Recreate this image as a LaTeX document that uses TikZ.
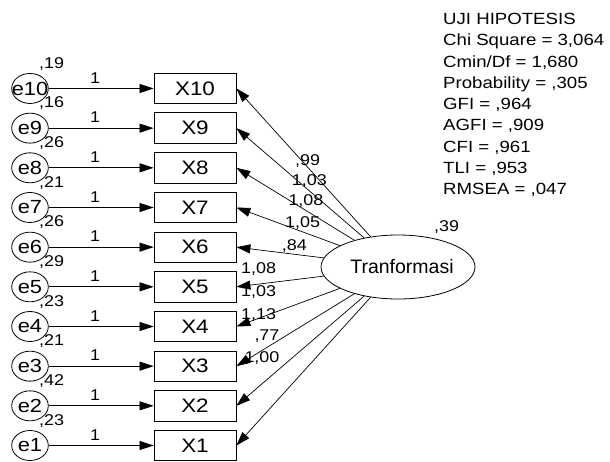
\documentclass[tikz,border=0pt]{standalone}
\usepackage{fontspec}
\newfontfamily\af{Liberation Sans}[FakeStretch=1.15]
\newfontfamily\an{Liberation Sans}
\usetikzlibrary{shapes.geometric,arrows.meta}
\tikzset{
  obsbox/.style={draw=black, line width=0.8pt, minimum width=82pt, minimum height=30.5pt, inner sep=0pt,
    font={\af\fontsize{19.5}{20}\selectfont}},
  errell/.style={draw=black, line width=0.8pt, ellipse, minimum width=36.6pt, minimum height=30pt, inner sep=0pt,
    font={\af\fontsize{19}{20}\selectfont}},
  latell/.style={draw=black, line width=0.8pt, ellipse, minimum width=154pt, minimum height=64pt, inner sep=0pt,
    font={\an\fontsize{19.5}{20}\selectfont}},
  arr/.style={line width=0.7pt, -{Triangle[length=14pt,width=9pt]}},
  small/.style={inner sep=0pt, anchor=base west, font={\af\fontsize{15.6}{16}\selectfont}},
  one/.style={inner sep=0pt, anchor=base, font={\af\fontsize{15.6}{16}\selectfont}},
  stat/.style={inner sep=0pt, anchor=base west, font={\af\fontsize{16.2}{18}\selectfont}},
}
\begin{document}
\begin{tikzpicture}[x=1pt,y=-1pt]
\useasboundingbox[fill=white] (0,0) rectangle (610,461);
% latent
\node[latell] (T) at (398,267) {\makebox[0pt]{\hspace{8pt}Tranformasi}};
\node[small] (vT) at (434,231.7) {,39};
% observed and errors
\foreach \i/\v in {10/{,19},9/{,16},8/{,26},7/{,21},6/{,26},5/{,29},4/{,23},3/{,21},2/{,42},1/{,23}}{
  \pgfmathsetmacro\yy{445.5-(\i-1)*39.67}
  \node[obsbox] (X\i) at (195,\yy) {X\i};
  \node[errell] (e\i) at (30,\yy) {\makebox[0pt]{e\i}};
  \draw[arr] (e\i) -- (X\i);
  \node[one] (w\i) at (95,\yy-5.2) {1};
  \node[small] (v\i) at (39,\yy-20.2) {\v};
  \draw[arr] (T) -- (X\i.east);
}
% loadings
\node[small] (l10) at (295,165) {,99};
\node[small] (l9) at (291.7,185) {1,03};
\node[small] (l8) at (288.3,205.7) {1,08};
\node[small] (l7) at (285,227.3) {1,05};
\node[small] (l6) at (281.7,250) {,84};
\node[small] (l5) at (241,273.3) {1,08};
\node[small] (l4) at (241,296.7) {1,03};
\node[small] (l3) at (241,319) {1,13};
\node[small] (l2) at (254.3,340.7) {,77};
\node[small] (l1) at (244.3,362.3) {1,00};
% fit statistics
\foreach \k/\t in {0/{UJI HIPOTESIS},1/{Chi Square = 3,064},2/{Cmin/Df = 1,680},3/{Probability = ,305},4/{GFI = ,964},5/{AGFI = ,909},6/{CFI = ,961},7/{TLI = ,953},8/{RMSEA = ,047}}{
  \node[stat] (s\k) at (443,24.5+\k*21.25) {\t};
}
\end{tikzpicture}
\end{document}
